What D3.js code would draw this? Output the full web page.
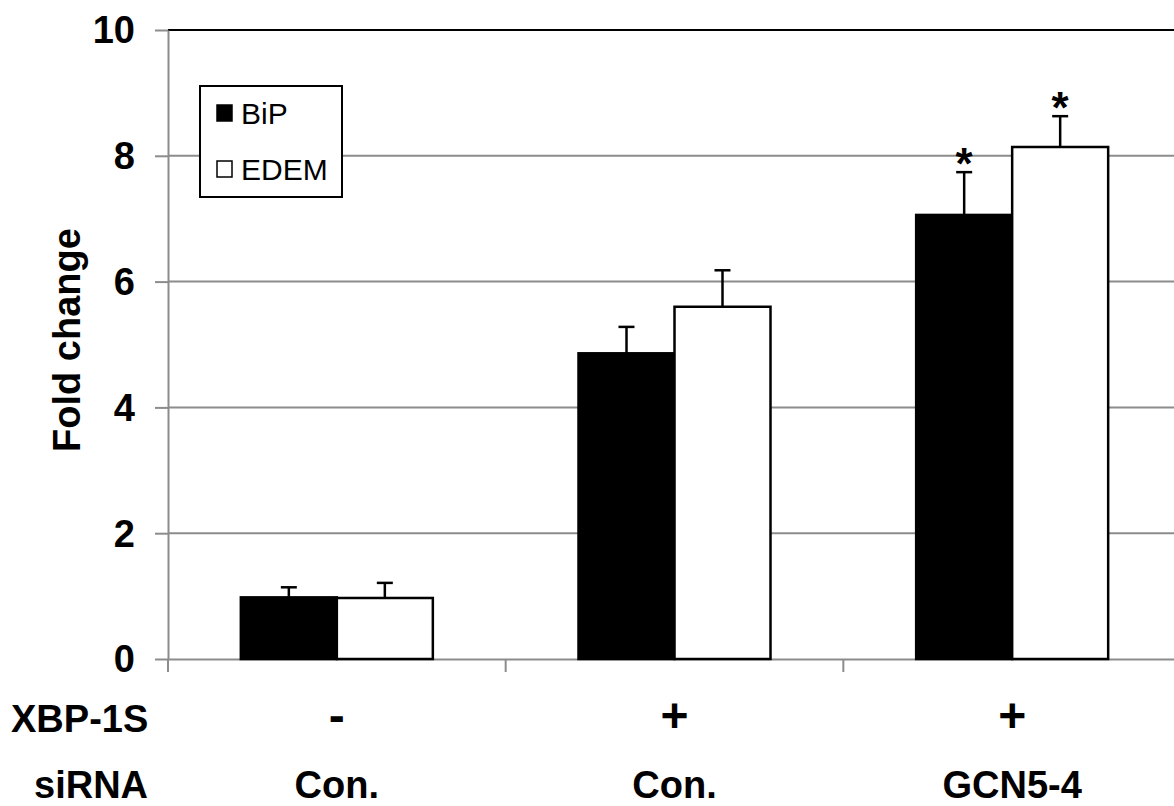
<!DOCTYPE html>
<html>
<head>
<meta charset="utf-8">
<script src="https://cdn.jsdelivr.net/npm/d3@7"></script>
<style>
  body { margin: 0; background: #fff; }
  text { font-family: "Liberation Sans", Arial, sans-serif; }
</style>
</head>
<body>
<svg id="chart" width="1174" height="806"></svg>
<script>
// data
var groups = ["g1", "g2", "g3"];
var xbpLabels = ["-", "+", "+"];
var sirnaLabels = ["Con.", "Con.", "GCN5-4"];
var series = ["BiP", "EDEM"];
var bipValues = [0.98, 4.86, 7.06];
var bipErrors = [0.16, 0.42, 0.68];
var edemValues = [0.97, 5.60, 8.14];
var edemErrors = [0.24, 0.58, 0.49];
var starred = [false, false, true];
var yTicks = [0, 2, 4, 6, 8, 10];

var svg = d3.select("#chart");
var plotLeft = 168, plotTop = 30, plotBottom = 659, plotRight = 1181;
var fontBig = "38px";

var y = d3.scaleLinear().domain([0, 10]).range([plotBottom, plotTop]);
var x = d3.scaleBand().domain(groups).range([plotLeft, plotRight]);
var barW = 96;
var sub = d3.scaleBand().domain(series).range([-barW, barW]);
var fills = {"BiP": "#000", "EDEM": "#fff"};

// gridlines
svg.append("g").selectAll("line")
  .data(yTicks.filter(function(d) { return d > 0 && d < 10; }))
  .enter().append("line")
    .attr("x1", plotLeft).attr("x2", plotRight)
    .attr("y1", function(d) { return y(d); })
    .attr("y2", function(d) { return y(d); })
    .attr("stroke", "#8c8c8c").attr("stroke-width", 2);

// top border
svg.append("line")
  .attr("x1", plotLeft).attr("x2", plotRight).attr("y1", y(10)).attr("y2", y(10))
  .attr("stroke", "#000").attr("stroke-width", 2);

// y axis
var yAxis = svg.append("g")
  .attr("transform", "translate(" + plotLeft + ",0)")
  .call(d3.axisLeft(y).tickValues(yTicks).tickSize(13).tickPadding(20).tickSizeOuter(0));
yAxis.select(".domain").attr("stroke", "#8c8c8c").attr("stroke-width", 2);
yAxis.selectAll(".tick line").attr("stroke", "#8c8c8c").attr("stroke-width", 2);
yAxis.selectAll(".tick text")
  .attr("dy", "0.34em")
  .style("font-size", fontBig).style("font-weight", "bold").attr("fill", "#000");

// x axis
var xAxis = svg.append("g")
  .attr("transform", "translate(0," + plotBottom + ")")
  .call(d3.axisBottom(x).tickValues([]).tickSizeOuter(0));
xAxis.select(".domain").attr("stroke", "#8c8c8c").attr("stroke-width", 2);
xAxis.selectAll(".sep")
  .data(groups).enter().append("line")
    .attr("x1", function(d) { return x(d); })
    .attr("x2", function(d) { return x(d); })
    .attr("y1", 0).attr("y2", 13)
    .attr("stroke", "#8c8c8c").attr("stroke-width", 2);

// bars
var rows = [];
groups.forEach(function(g, i) {
  rows.push({g: g, s: "BiP", v: bipValues[i], e: bipErrors[i], star: starred[i]});
  rows.push({g: g, s: "EDEM", v: edemValues[i], e: edemErrors[i], star: starred[i]});
});
function cx(d) { return x(d.g) + x.bandwidth() / 2 + sub(d.s); }
function mid(d) { return cx(d) + sub.bandwidth() / 2; }

svg.append("g").selectAll("rect").data(rows).enter().append("rect")
  .attr("x", cx)
  .attr("y", function(d) { return y(d.v); })
  .attr("width", sub.bandwidth())
  .attr("height", function(d) { return plotBottom - y(d.v); })
  .attr("fill", function(d) { return fills[d.s]; })
  .attr("stroke", "#000").attr("stroke-width", 2.5);

// error bars
var err = svg.append("g").attr("stroke", "#000").attr("stroke-width", 2.5);
err.selectAll(".v").data(rows).enter().append("line")
  .attr("x1", mid).attr("x2", mid)
  .attr("y1", function(d) { return y(d.v); })
  .attr("y2", function(d) { return y(d.v + d.e); });
err.selectAll(".c").data(rows).enter().append("line")
  .attr("x1", function(d) { return mid(d) - 8; })
  .attr("x2", function(d) { return mid(d) + 8; })
  .attr("y1", function(d) { return y(d.v + d.e); })
  .attr("y2", function(d) { return y(d.v + d.e); });

// significance stars
svg.append("g").selectAll("text")
  .data(rows.filter(function(d) { return d.star; }))
  .enter().append("text")
    .attr("x", mid)
    .attr("y", function(d) { return y(d.v + d.e) + 7; })
    .attr("text-anchor", "middle")
    .style("font-size", "44px").style("font-weight", "bold")
    .text("*");

// y title
svg.append("text")
  .attr("transform", "translate(80,340) rotate(-90)")
  .attr("text-anchor", "middle")
  .style("font-size", fontBig).style("font-weight", "bold")
  .text("Fold change");

// category rows
svg.append("text").attr("x", 11).attr("y", 732)
  .style("font-size", fontBig).style("font-weight", "bold").text("XBP-1S");
svg.append("text").attr("x", 34).attr("y", 798)
  .style("font-size", fontBig).style("font-weight", "bold").text("siRNA");
svg.append("g").selectAll("text").data(groups).enter().append("text")
  .attr("x", function(d) { return x(d) + x.bandwidth() / 2; })
  .attr("y", 732)
  .attr("text-anchor", "middle")
  .style("font-size", "48px").style("font-weight", "bold")
  .text(function(d, i) { return xbpLabels[i]; });
svg.append("g").selectAll("text").data(groups).enter().append("text")
  .attr("x", function(d) { return x(d) + x.bandwidth() / 2; })
  .attr("y", 798)
  .attr("text-anchor", "middle")
  .style("font-size", fontBig).style("font-weight", "bold")
  .text(function(d, i) { return sirnaLabels[i]; });

// legend
var legend = svg.append("g").attr("transform", "translate(200,86)");
legend.append("rect").attr("width", 142).attr("height", 111)
  .attr("fill", "#fff").attr("stroke", "#000").attr("stroke-width", 2);
var item = legend.selectAll(".item").data(series).enter().append("g")
  .attr("transform", function(d, i) { return "translate(17," + (27 + i * 56) + ")"; });
item.append("rect").attr("y", -8).attr("width", 15).attr("height", 16)
  .attr("fill", function(d) { return fills[d]; })
  .attr("stroke", "#000").attr("stroke-width", 1.5);
item.append("text").attr("x", 24).attr("y", 11)
  .style("font-size", "30px")
  .text(function(d) { return d; });
</script>
</body>
</html>
